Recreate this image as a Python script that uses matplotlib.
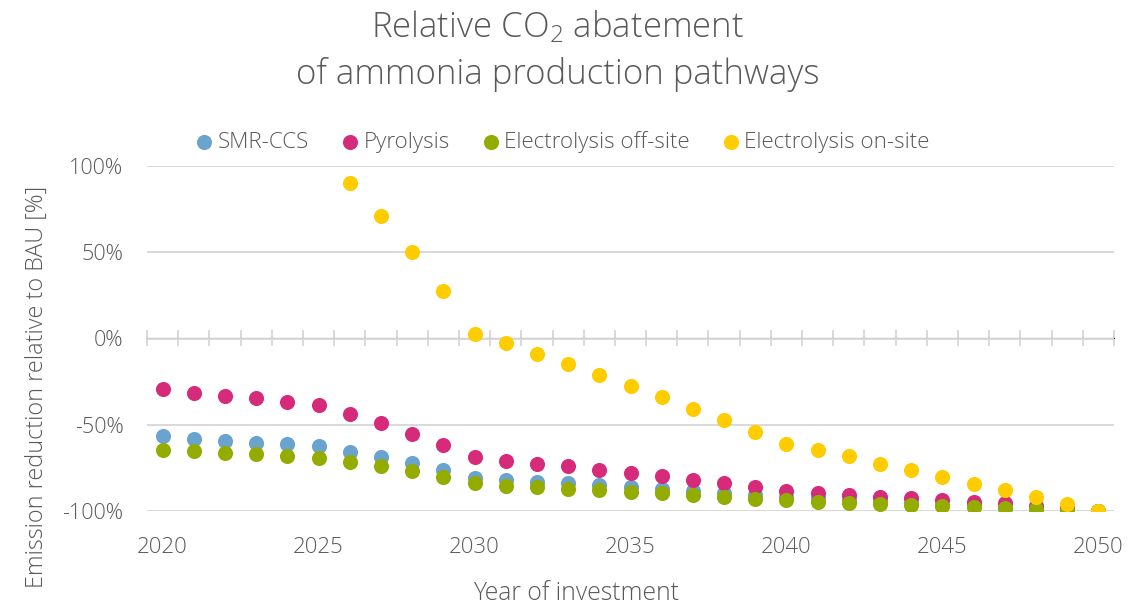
import matplotlib
matplotlib.use('Agg')
import matplotlib.pyplot as plt
from matplotlib.ticker import FuncFormatter, NullFormatter
import numpy as np

# ---- data ----
years = list(range(2020, 2051))
smr_ccs = [-56.8, -58.1, -59.3, -60.5, -61.4, -62.6, -65.7, -68.8, -72.3, -76.4,
           -81.0, -82.2, -83.3, -83.9, -84.9, -86.2, -87.4, -88.6, -89.7, -90.7,
           -91.7, -92.6, -93.6, -94.5, -95.4, -96.3, -97.2, -98.0, -98.7, -99.4, -100.0]
pyrolysis = [-29.3, -31.4, -33.3, -34.7, -36.6, -38.6, -43.8, -48.8, -55.2, -61.6,
             -68.8, -70.9, -72.7, -74.2, -76.0, -77.7, -79.7, -82.0, -83.7, -85.9,
             -88.2, -89.3, -90.5, -91.7, -92.6, -93.8, -94.8, -95.5, -96.9, -98.2, -100.0]
elec_off = [-64.5, -65.3, -66.3, -67.0, -68.2, -69.0, -71.5, -74.2, -77.1, -80.4,
            -83.9, -85.3, -86.0, -87.0, -88.0, -89.0, -89.7, -90.9, -91.9, -92.8,
            -93.8, -94.6, -95.2, -95.9, -96.3, -96.9, -97.7, -98.1, -98.8, -99.8, -100.0]
on_years = list(range(2026, 2051))
elec_on = [90.3, 71.1, 50.4, 27.7, 2.8, -2.6, -8.7, -14.9, -21.1, -27.7,
           -33.9, -40.7, -47.3, -54.1, -61.0, -64.7, -68.4, -72.7, -76.4, -80.0,
           -84.1, -88.0, -91.9, -95.9, -99.8]
labels = ['SMR-CCS', 'Pyrolysis', 'Electrolysis off-site', 'Electrolysis on-site']
colors = ['#6AA3CE', '#D62B7B', '#94AC00', '#FFCC00']
yticks = [-100, -50, 0, 50, 100]
xticks = [2020, 2025, 2030, 2035, 2040, 2045, 2050]

FONT = 'Open Sans'
TXT = '#595959'
GRID = '#D9D9D9'
plt.rcParams['font.family'] = [FONT, 'DejaVu Sans']
plt.rcParams['font.weight'] = 'light'
plt.rcParams['mathtext.fontset'] = 'custom'
plt.rcParams['mathtext.rm'] = FONT + ':light'
plt.rcParams['mathtext.it'] = FONT + ':light:italic'

W, H = 1143, 606
fig = plt.figure(figsize=(W / 100, H / 100), dpi=100)
L, R, T, B = 147, 1114, 166, 511
ax = fig.add_axes([L / W, 1 - B / H, (R - L) / W, (B - T) / H])

data = [(years, smr_ccs), (years, pyrolysis), (years, elec_off), (on_years, elec_on)]
for (x, y), c, lab in zip(data, colors, labels):
    ax.scatter(x, y, s=118, color=c, label=lab, linewidths=0, zorder=3)

ax.set_xlim(2019.5, 2050.5)
ax.set_ylim(-100, 100)
ax.set_yticks(yticks)
ax.yaxis.set_major_formatter(FuncFormatter(lambda v, p: f'{v:.0f}%'))
ax.grid(axis='y', color=GRID, lw=1.4)
ax.set_axisbelow(True)
for s in ax.spines.values():
    s.set_visible(False)
ax.tick_params(axis='y', length=0, pad=17, labelsize=15.5, labelcolor=TXT)
ax.set_xticks(xticks)
ax.tick_params(axis='x', length=0, pad=19, labelsize=16, labelcolor=TXT)

sec = ax.secondary_xaxis(0.5)
sec.set_xticks(np.arange(2019.5, 2051, 1))
sec.xaxis.set_major_formatter(NullFormatter())
sec.tick_params(direction='inout', length=11, width=1.4, color=GRID)
sec.spines['bottom'].set_color(GRID)
sec.spines['bottom'].set_linewidth(1.4)

fig.text(558 / W, 1 - 27 / H, 'Relative CO$_2$ abatement', ha='center', va='center',
         fontsize=25, color=TXT)
fig.text(558 / W, 1 - 75 / H, 'of ammonia production pathways', ha='center', va='center',
         fontsize=25, color=TXT)
fig.text(37 / W, 1 - 387 / H, 'Emission reduction relative to BAU [%]', rotation=90,
         ha='center', va='center', fontsize=16.8, color=TXT)
fig.text(576 / W, 1 - 594 / H, 'Year of investment', ha='center', va='center',
         fontsize=17.8, color=TXT)

fig.legend(loc='center', bbox_to_anchor=(563 / W, 1 - 142 / H), ncol=4, frameon=False,
           handletextpad=0.26, columnspacing=1.48, handlelength=0.7, scatterpoints=1,
           fontsize=16.1, labelcolor=TXT, borderpad=0, borderaxespad=0)

fig.savefig('out.png', dpi=100)
